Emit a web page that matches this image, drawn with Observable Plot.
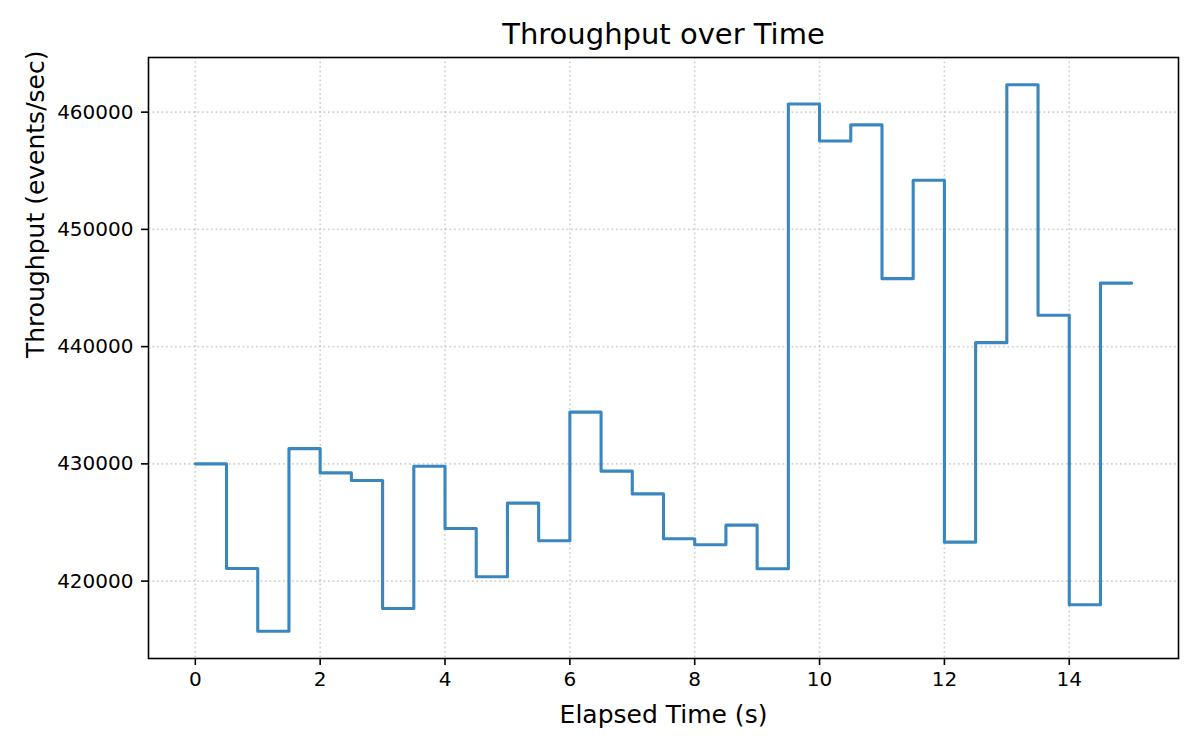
<!DOCTYPE html>
<html>
<head>
<meta charset="utf-8">
<script src="https://cdn.jsdelivr.net/npm/d3@7"></script>
<script src="https://cdn.jsdelivr.net/npm/@observablehq/plot@0.6"></script>
<style>
  html, body { margin: 0; padding: 0; background: #fff; }
  #chart { width: 1200px; height: 750px; }
</style>
</head>
<body>
<div id="chart"></div>
<script>
const titleText = "Throughput over Time";
const xLabel = "Elapsed Time (s)";
const yLabel = "Throughput (events/sec)";
const elapsed = [0, 0.5, 1, 1.5, 2, 2.5, 3, 3.5, 4, 4.5, 5, 5.5, 6, 6.5, 7, 7.5,
  8, 8.5, 9, 9.5, 10, 10.5, 11, 11.5, 12, 12.5, 13, 13.5, 14, 14.5, 15];
const throughput = [430000, 421080, 415730, 431300, 429230, 428580, 417670, 429800,
  424490, 420370, 426650, 423440, 434410, 429380, 427440, 423610,
  423100, 424775, 421050, 460690, 457540, 458910, 445800, 454190,
  423330, 440340, 462330, 442680, 417980, 445420, 445420];
const xTicks = [0, 2, 4, 6, 8, 10, 12, 14];
const yTicks = [420000, 430000, 440000, 450000, 460000];

const data = elapsed.map((t, i) => ({t, v: throughput[i]}));
const [ymin, ymax] = d3.extent(throughput);
const ypad = (ymax - ymin) * 0.05;
const [xmin, xmax] = d3.extent(elapsed);
const xpad = (xmax - xmin) * 0.05;

const gridStyle = {stroke: "#b0b0b0", strokeOpacity: 0.6, strokeWidth: 1.6, strokeDasharray: "1.7,2.8"};

const chart = Plot.plot({
  width: 1200,
  height: 750,
  marginLeft: 148,
  marginRight: 22,
  marginTop: 57,
  marginBottom: 92,
  style: {fontFamily: "DejaVu Sans", fontSize: "20px", color: "black", background: "white"},
  x: {domain: [xmin - xpad, xmax + xpad]},
  y: {domain: [ymin - ypad, ymax + ypad]},
  marks: [
    Plot.gridX(xTicks, {...gridStyle}),
    Plot.gridY(yTicks, {...gridStyle}),
    Plot.line(data, {x: "t", y: "v", curve: "step-after", stroke: "#3a87c0", strokeWidth: 3.1}),
    Plot.frame({stroke: "black", strokeWidth: 1.6}),
    Plot.axisX(xTicks, {tickSize: 7, tickPadding: 6, fontSize: 20, strokeWidth: 1.6, label: null}),
    Plot.axisY(yTicks, {tickSize: 7, tickPadding: 8, fontSize: 20, strokeWidth: 1.6,
      tickFormat: d => String(d), label: null}),
    Plot.text([xLabel], {frameAnchor: "bottom", lineAnchor: "middle", dy: 56, fontSize: 25, text: d => d}),
    Plot.text([yLabel], {frameAnchor: "left", lineAnchor: "middle", rotate: -90, dx: -113, fontSize: 25, text: d => d}),
    Plot.text([titleText], {frameAnchor: "top", lineAnchor: "middle", dy: -23, fontSize: 29, text: d => d})
  ]
});
document.getElementById("chart").appendChild(chart);
</script>
</body>
</html>
